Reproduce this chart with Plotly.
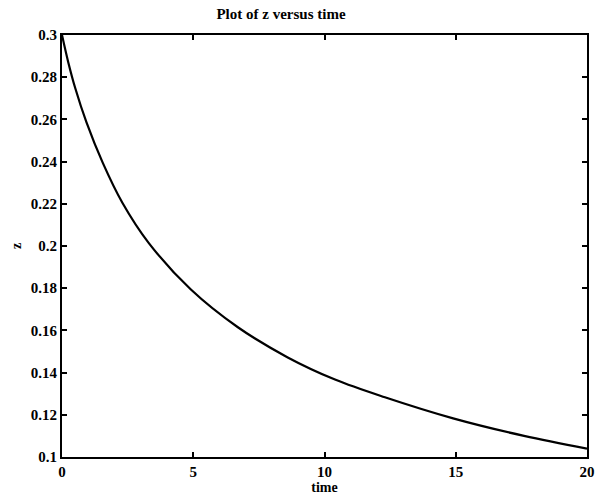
import plotly.graph_objects as go

# Sampled solution z(t)
time = [0, 0.24, 0.5, 0.93, 1.55, 2.3, 3.3, 4.9, 6.7, 8.6, 10.4, 12.3, 14.9, 17.6, 20]
z = [0.3, 0.287, 0.2750, 0.2587, 0.2395, 0.2205, 0.2015, 0.1795, 0.1615, 0.1472, 0.1367, 0.1283, 0.1183, 0.1100, 0.104]

x_ticks = [0, 5, 10, 15, 20]
y_ticks = [0.1, 0.12, 0.14, 0.16, 0.18, 0.2, 0.22, 0.24, 0.26, 0.28, 0.3]
y_tick_text = ["0.1", "0.12", "0.14", "0.16", "0.18", "0.2", "0.22", "0.24", "0.26", "0.28", "0.3"]

font_family = "Liberation Serif"

fig = go.Figure(
    go.Scatter(
        x=time, y=z, mode="lines",
        line=dict(color="black", width=2.2, shape="spline", smoothing=1.0),
        hoverinfo="skip",
    )
)

axis_common = dict(
    showgrid=False, zeroline=False,
    showline=True, linecolor="black", linewidth=2, mirror="ticks",
    ticks="inside", ticklen=5, tickwidth=1.5, tickcolor="black",
    tickfont=dict(family=font_family, size=15, color="black", weight="bold"),
)

fig.update_layout(
    width=603, height=500,
    margin=dict(l=62, r=8, t=35, b=41),
    paper_bgcolor="white", plot_bgcolor="white",
    showlegend=False,
    title=dict(
        text="<b>Plot of z versus time</b>",
        x=281 / 603, xanchor="center", y=0.972, yanchor="middle",
        font=dict(family=font_family, size=15, color="black"),
    ),
    xaxis=dict(
        range=[0, 20], tickvals=x_ticks, ticktext=[str(v) for v in x_ticks],
        title=dict(text="<b>time</b>", standoff=2,
                   font=dict(family=font_family, size=14, color="black")),
        **axis_common,
    ),
    yaxis=dict(
        range=[0.1, 0.3], tickvals=y_ticks, ticktext=y_tick_text,
        title=dict(text="<b>z</b>", standoff=6,
                   font=dict(family=font_family, size=14, color="black")),
        **axis_common,
    ),
)

fig.write_html("out.html")
